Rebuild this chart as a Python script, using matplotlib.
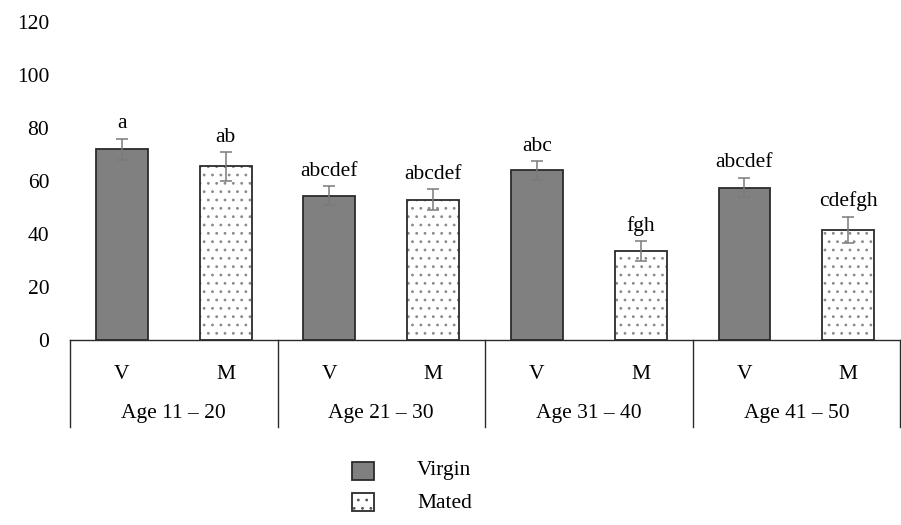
import numpy as np
import matplotlib.pyplot as plt
from matplotlib.transforms import blended_transform_factory

# --- data ---
groups = ['Age 11 – 20', 'Age 21 – 30', 'Age 31 – 40', 'Age 41 – 50']
sub_labels = ['V', 'M']
virgin = [72, 54.5, 64, 57.5]
mated = [65.5, 53, 33.5, 41.5]
virgin_err = [4, 3.5, 3.5, 3.7]
mated_err = [5.5, 3.8, 3.8, 5.0]
virgin_letters = ['a', 'abcdef', 'abc', 'abcdef']
mated_letters = ['ab', 'abcdef', 'fgh', 'cdefgh']

plt.rcParams['font.family'] = ['Liberation Serif', 'DejaVu Serif']
plt.rcParams['hatch.linewidth'] = 0.8
fs = 15.5

fig = plt.figure(figsize=(9.01, 5.25), dpi=100)
ax = fig.add_axes([0.0777, 0.3524, 0.9213, 0.6058])

n = len(groups)
xv = np.arange(n) * 2
xm = xv + 1
w = 0.5
edge = '#2b2b2b'
errc = '#7a7a7a'

ax.bar(xv, virgin, w, color='#808080', edgecolor=edge, linewidth=1.3, zorder=2)
# mated: white with grey dots, then outline
ax.bar(xm, mated, w, color='white', edgecolor='#8a8a8a', hatch='..', linewidth=0, zorder=2)
ax.bar(xm, mated, w, color='none', edgecolor=edge, linewidth=1.3, zorder=3)

ax.errorbar(xv, virgin, yerr=virgin_err, fmt='none', ecolor=errc, elinewidth=1.1,
            capsize=4, capthick=1.1, zorder=4)
ax.errorbar(xm, mated, yerr=mated_err, fmt='none', ecolor=errc, elinewidth=1.1,
            capsize=4, capthick=1.1, zorder=4)

for x, v, e, s in zip(xv, virgin, virgin_err, virgin_letters):
    ax.text(x, v + e + 2.0, s, ha='center', va='bottom', fontsize=fs)
for x, v, e, s in zip(xm, mated, mated_err, mated_letters):
    ax.text(x, v + e + 2.0, s, ha='center', va='bottom', fontsize=fs)

ax.set_xlim(-0.5, 2 * n - 0.5)
ax.set_ylim(0, 120)
ax.set_yticks(np.arange(0, 121, 20))
ax.tick_params(axis='y', length=0, pad=15, labelsize=fs)
ax.set_xticks([])
for sp in ['left', 'right', 'top']:
    ax.spines[sp].set_visible(False)
ax.spines['bottom'].set_color(edge)
ax.spines['bottom'].set_linewidth(1.0)

# two-level category axis below
tr = blended_transform_factory(ax.transData, ax.transAxes)
for b in np.arange(n + 1) * 2 - 0.5:
    ax.plot([b, b], [0, -0.275], color=edge, lw=1.0, transform=tr, clip_on=False)
for i in range(n):
    ax.text(xv[i], -0.11, sub_labels[0], transform=tr, ha='center', va='center', fontsize=fs)
    ax.text(xm[i], -0.11, sub_labels[1], transform=tr, ha='center', va='center', fontsize=fs)
    ax.text(xv[i] + 0.5, -0.232, groups[i], transform=tr, ha='center', va='center', fontsize=fs)

# legend
fig.patches.append(plt.Rectangle((352 / 901, 1 - 480 / 525), 22 / 901, 18 / 525,
                                 transform=fig.transFigure, facecolor='#808080',
                                 edgecolor=edge, lw=1.3))
fig.patches.append(plt.Rectangle((352 / 901, 1 - 511 / 525), 22 / 901, 18 / 525,
                                 transform=fig.transFigure, facecolor='white',
                                 edgecolor='#555555', hatch='..', lw=0))
fig.patches.append(plt.Rectangle((352 / 901, 1 - 511 / 525), 22 / 901, 18 / 525,
                                 transform=fig.transFigure, facecolor='none',
                                 edgecolor=edge, lw=1.3))
fig.text(417 / 901, 1 - 471 / 525, 'Virgin', ha='left', va='center', fontsize=fs)
fig.text(417 / 901, 1 - 503 / 525, 'Mated', ha='left', va='center', fontsize=fs)

fig.savefig('out.png', dpi=100)
